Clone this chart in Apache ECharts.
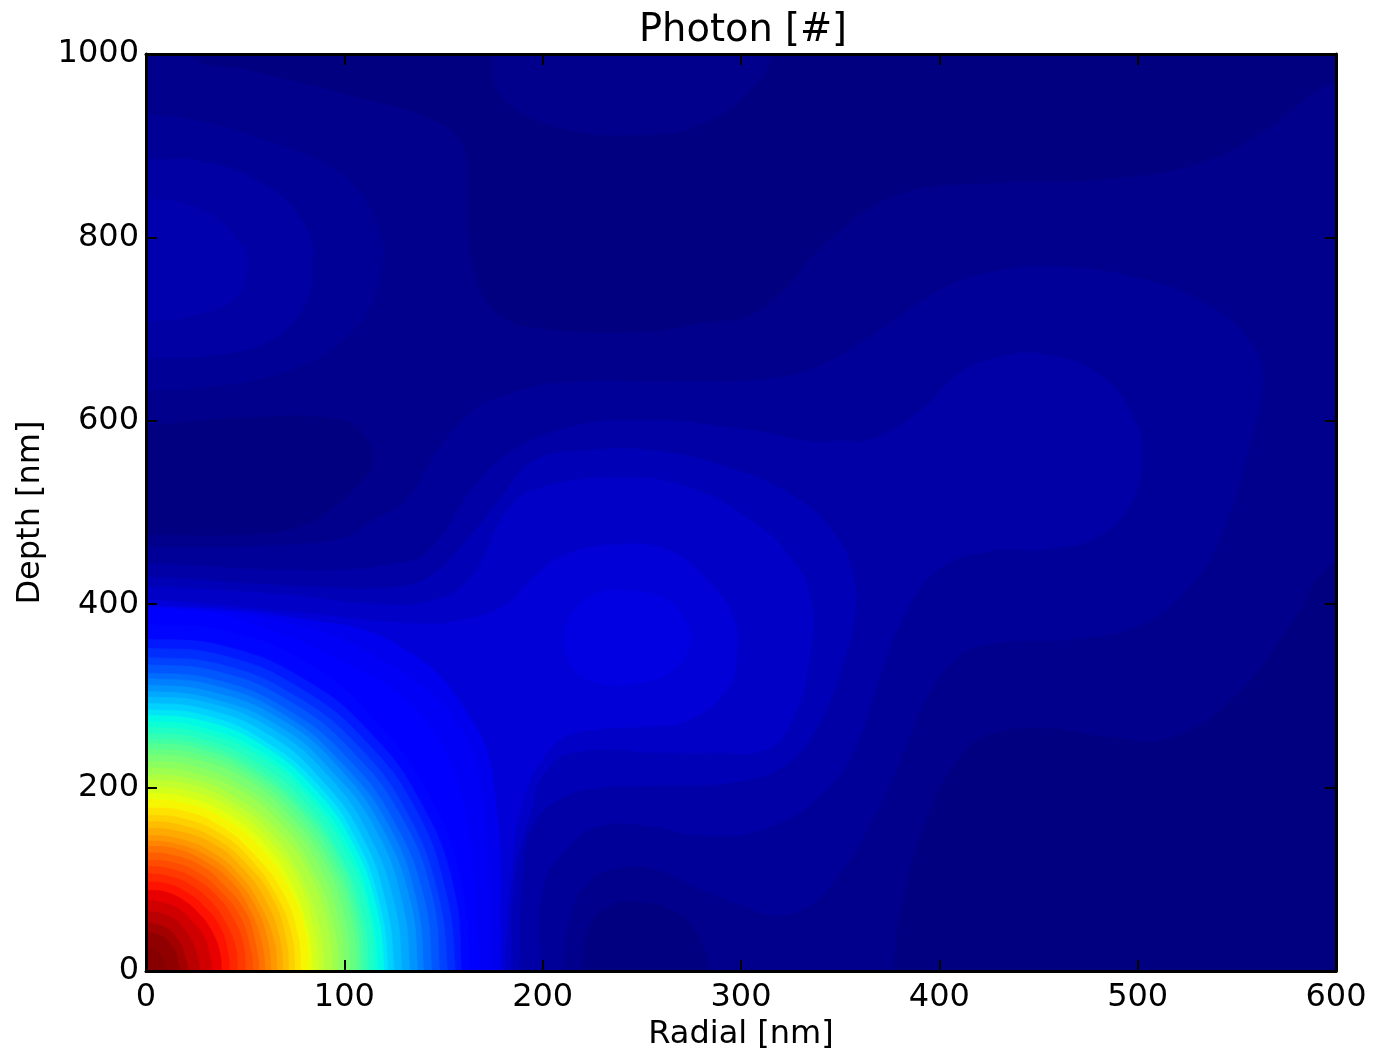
<!DOCTYPE html>
<html><head><meta charset="utf-8">
<style>html,body{margin:0;padding:0;background:#fff}#c{width:1375px;height:1056px}</style>
<script src="https://cdn.jsdelivr.net/npm/echarts@6/dist/echarts.min.js"></script>
</head><body><div id="c"></div>
<script>
const chartTitle = 'Photon [#]';
const radialLabel = 'Radial [nm]';
const depthLabel = 'Depth [nm]';
const radialRange = [0, 600];
const depthRange = [0, 1000];
const radialStep = 100;
const depthStep = 200;

// Filled-contour regions, painted in order.
// Each row: normalised level, then radial,depth pairs in nm.
const lowRegions = [
  [0.011, 0,0, 600,0, 600,1000, 0,1000],
  [0.001, 22,1000, 52,983, 98,958, 148,925, 161,893, 162,823, 167,752, 179,715, 199,701, 249,697, 279,706, 310,722, 345,798, 380,847, 431,860, 481,863, 532,882, 565,918, 600,970, 600,1000],
  [0.011, 175,1000, 179,955, 209,920, 249,912, 279,923, 305,961, 315,1000],
  [0.001, 377,0, 382,80, 395,172, 409,229, 422,255, 451,265, 485,255, 518,255, 552,306, 577,377, 600,446, 600,0],
  [0.001, 0,595, 47,603, 98,601, 111,581, 114,552, 109,535, 94,505, 76,484, 50,476, 0,476],
  [0.001, 220,0, 224,50, 235,72, 249,75, 263,68, 276,47, 284,0]
];
const upperLobe = [
  [0.020, 0,934, 31,925, 64,903, 89,882, 106,853, 118,802, 119,773, 114,729, 98,686, 73,656, 31,637, 0,634],
  [0.030, 0,885, 31,882, 64,852, 81,809, 84,773, 79,722, 61,686, 31,671, 0,668],
  [0.040, 0,842, 27,831, 47,795, 51,769, 46,736, 31,719, 0,708]
];
const middleBands = [
  [0.021, 210,0, 215,68, 225,101, 241,113, 258,110, 279,90, 300,72, 318,61, 335,72, 350,107, 367,167, 384,249, 394,300, 409,342, 426,357, 467,362, 501,377, 526,419, 543,480, 557,578, 563,644, 557,685, 535,727, 501,755, 459,768, 426,762, 400,742, 375,706, 364,690, 341,661, 316,646, 266,643, 207,641, 182,628, 165,611, 148,570, 131,513, 114,491, 101,473, 67,464, 0,462, 0,0],
  [0.033, 199,0, 200,90, 212,133, 229,158, 254,158, 279,148, 313,156, 345,202, 360,256, 370,321, 384,394, 400,439, 426,458, 454,460, 481,475, 498,516, 502,563, 498,603, 481,650, 454,672, 431,670, 409,650, 392,614, 367,581, 350,578, 333,578, 308,589, 246,601, 207,589, 182,563, 165,527, 143,459, 126,444, 84,437, 0,444, 0,0],
  [0.047, 188,0, 190,104, 195,158, 209,188, 229,200, 254,202, 300,207, 325,229, 340,272, 351,332, 357,383, 357,429, 346,480, 325,520, 291,551, 258,567, 224,568, 195,556, 179,516, 163,473, 145,433, 126,419, 84,419, 0,430, 0,0],
  [0.0607, 184,0, 186,104, 195,180, 200,213, 215,238, 263,238, 286,238, 313,242, 326,274, 335,346, 335,408, 325,451, 308,487, 274,527, 241,538, 199,527, 182,502, 165,433, 146,405, 117,400, 67,411, 0,419, 0,0],
  [0.0748, 181,0, 185,126, 191,191, 200,231, 212,256, 229,264, 254,267, 274,274, 293,307, 298,346, 296,386, 283,426, 263,459, 239,465, 212,454, 195,429, 182,400, 160,383, 135,379, 84,389, 0,405, 0,0],
  [0.085, 212,375, 224,408, 243,415, 263,404, 273,378, 274,356, 266,329, 249,314, 229,314, 215,332]
];
const cornerFan = [
  [0.095, 0,399, 78,384, 128,354, 163,278, 176,191, 179,0, 0,0],
  [0.103, 0,397, 70,380, 122,335, 157,270, 170,180, 174,0, 0,0],
  [0.11, 0,395, 34,390, 67,368, 100,337, 128,300, 148,250, 159,191, 165,104, 168,0, 0,0],
  [0.13, 0,378, 40,371, 82,335, 116,272, 143,190, 159,96, 163,0, 0,0],
  [0.15, 0,362, 40,354, 80,318, 113,260, 139,182, 155,92, 159,0, 0,0],
  [0.17, 0,352, 39,344, 78,308, 111,250, 136,176, 151,88, 156,0, 0,0],
  [0.19, 0,342, 38,334, 76,299, 108,243, 132,171, 147,86, 152,0, 0,0],
  [0.21, 0,334, 37,326, 74,292, 105,237, 129,167, 144,84, 148,0, 0,0],
  [0.23, 0,325, 36,317, 72,284, 102,231, 125,163, 140,81, 144,0, 0,0],
  [0.25, 0,319, 35,311, 70,279, 99,226, 122,160, 136,80, 140,0, 0,0],
  [0.27, 0,312, 34,304, 69,273, 97,222, 119,156, 133,78, 137,0, 0,0],
  [0.29, 0,305, 33,297, 67,267, 94,217, 116,153, 129,76, 133,0, 0,0],
  [0.31, 0,299, 32,292, 65,262, 92,212, 112,150, 125,75, 129,0, 0,0],
  [0.33, 0,292, 31,285, 63,256, 89,207, 109,146, 121,73, 125,0, 0,0],
  [0.35, 0,285, 31,278, 61,249, 87,202, 106,143, 118,71, 122,0, 0,0],
  [0.37, 0,279, 30,272, 60,244, 85,198, 104,140, 116,70, 120,0, 0,0],
  [0.39, 0,272, 29,265, 59,238, 83,193, 102,136, 113,68, 117,0, 0,0],
  [0.41, 0,266, 29,259, 58,233, 82,189, 100,133, 112,67, 115,0, 0,0],
  [0.43, 0,259, 28,253, 56,227, 80,184, 97,130, 109,65, 112,0, 0,0],
  [0.45, 0,253, 28,247, 55,221, 78,180, 96,127, 107,63, 110,0, 0,0],
  [0.47, 0,248, 27,242, 54,217, 77,176, 94,124, 105,62, 108,0, 0,0],
  [0.49, 0,242, 27,236, 53,212, 75,172, 92,121, 103,61, 106,0, 0,0],
  [0.51, 0,236, 26,230, 52,207, 73,168, 90,118, 100,59, 103,0, 0,0],
  [0.53, 0,229, 25,223, 50,200, 71,163, 87,115, 97,57, 100,0, 0,0],
  [0.55, 0,222, 24,216, 49,194, 69,158, 84,111, 94,56, 97,0, 0,0],
  [0.57, 0,214, 24,209, 47,187, 67,152, 82,107, 91,54, 94,0, 0,0],
  [0.59, 0,208, 23,203, 45,182, 64,148, 78,104, 87,52, 90,0, 0,0],
  [0.61, 0,201, 22,196, 44,176, 62,143, 76,101, 84,50, 87,0, 0,0],
  [0.63, 0,194, 21,189, 42,170, 60,138, 73,97, 81,49, 84,0, 0,0],
  [0.65, 0,187, 21,182, 41,164, 58,133, 71,94, 80,47, 82,0, 0,0],
  [0.67, 0,178, 20,174, 39,156, 55,126, 68,89, 76,45, 78,0, 0,0],
  [0.69, 0,170, 19,166, 38,149, 53,121, 65,85, 73,43, 75,0, 0,0],
  [0.71, 0,163, 18,159, 36,143, 51,116, 63,82, 70,41, 72,0, 0,0],
  [0.73, 0,156, 17,152, 35,137, 49,111, 60,78, 67,39, 69,0, 0,0],
  [0.75, 0,148, 17,144, 33,130, 47,105, 57,74, 64,37, 66,0, 0,0],
  [0.77, 0,142, 16,138, 32,124, 45,101, 55,71, 61,36, 63,0, 0,0],
  [0.79, 0,136, 15,133, 30,119, 43,97, 52,68, 58,34, 60,0, 0,0],
  [0.81, 0,129, 14,126, 29,113, 40,92, 50,65, 55,32, 57,0, 0,0],
  [0.83, 0,121, 14,118, 27,106, 38,86, 47,61, 52,30, 54,0, 0,0],
  [0.85, 0,114, 13,111, 25,100, 36,81, 44,57, 49,29, 50,0, 0,0],
  [0.87, 0,106, 12,103, 23,93, 33,75, 40,53, 45,27, 46,0, 0,0],
  [0.89, 0,97, 11,95, 21,85, 30,69, 37,49, 41,24, 42,0, 0,0],
  [0.91, 0,88, 10,86, 19,77, 27,62, 33,44, 37,22, 38,0, 0,0],
  [0.93, 0,77, 8,75, 17,67, 23,55, 29,39, 32,19, 33,0, 0,0],
  [0.95, 0,65, 7,63, 14,57, 19,46, 23,33, 26,16, 27,0, 0,0],
  [0.97, 0,52, 5,51, 11,46, 15,37, 18,26, 20,13, 21,0, 0,0],
  [0.985, 0,42, 4,41, 9,37, 12,30, 15,21, 16,11, 17,0, 0,0],
  [0.995, 0,26, 3,25, 5,23, 7,18, 9,13, 10,7, 10,0, 0,0]
];

// jet colour stops [position, red, green, blue]
const jetStops = [
  [0,0,0,128],[0.11,0,0,255],[0.125,0,0,255],[0.34,0,219,255],[0.35,0,230,247],
  [0.375,0,255,226],[0.64,238,255,4],[0.66,255,236,0],[0.89,255,19,0],[0.91,232,0,0],[1,128,0,0]
];
function jetAt(t){
  for(let i=1;i<jetStops.length;i++){
    const a=jetStops[i-1],b=jetStops[i];
    if(t<=b[0]){
      const f=(t-a[0])/(b[0]-a[0]);
      const ch=k=>Math.round(a[k]+(b[k]-a[k])*f);
      return 'rgb('+ch(1)+','+ch(2)+','+ch(3)+')';
    }
  }
  return 'rgb(128,0,0)';
}
const jetLut=[];for(let i=0;i<=400;i++)jetLut.push(jetAt(i/400));

const allRegions=[...lowRegions,...upperLobe,...middleBands,...cornerFan];
const regionData=allRegions.map((r,i)=>[r[0],i]);

// Runs along the plot edge are routed outside it, so the clip (not the spline) makes the edge.
const pushX=x=>x<=radialRange[0]?x-30:(x>=radialRange[1]?x+30:x);
const pushY=y=>y<=depthRange[0]?y-60:(y>=depthRange[1]?y+60:y);
const onX=p=>p[0]<=radialRange[0]||p[0]>=radialRange[1];
const onY=p=>p[1]<=depthRange[0]||p[1]>=depthRange[1];
const pushed=p=>[pushX(p[0]),pushY(p[1])];
function sameEdge(p,q){
  return (onX(p)&&onX(q)&&p[0]===q[0])||(onY(p)&&onY(q)&&p[1]===q[1]);
}
function routeRegion(r){
  const src=[];for(let i=1;i<r.length;i+=2)src.push([r[i],r[i+1]]);
  const out=[];
  src.forEach((p,i)=>{
    const q=src[(i+1)%src.length];
    const pCorner=onX(p)&&onY(p),qCorner=onX(q)&&onY(q);
    out.push(pCorner?pushed(p):p);
    if(sameEdge(p,q)){
      if(!pCorner)out.push(pushed(p));
      if(!qCorner)out.push(pushed(q));
    }
  });
  return out;
}
const routedRegions=allRegions.map(routeRegion);

function renderRegion(params,api){
  const pts=routedRegions[api.value(1)].map(p=>api.coord(p));
  const c=api.visual('color');
  return {type:'polygon',shape:{points:pts,smooth:pts.length>4?0.45:0},style:{fill:c,stroke:c,lineWidth:0.6}};
}

const font='"DejaVu Sans"';
const plain=v=>String(v);
const tickStyle={inside:true,length:11,lineStyle:{color:'#000',width:2}};
const lineStyle={show:true,onZero:false,lineStyle:{color:'#000',width:3}};
const chart=echarts.init(document.getElementById('c'),null,{renderer:'canvas'});
chart.setOption({
  animation:false,
  backgroundColor:'#fff',
  title:{text:chartTitle,left:738,top:7,textAlign:'center',textStyle:{fontFamily:font,fontWeight:'normal',fontSize:38.4,color:'#000'}},
  grid:{left:146,top:54,width:1190,height:922,containLabel:false},
  xAxis:[
    {type:'value',min:radialRange[0],max:radialRange[1],interval:radialStep,z:10,name:radialLabel,nameLocation:'middle',nameGap:48,
     nameTextStyle:{fontFamily:font,fontSize:32,color:'#000'},axisLine:lineStyle,axisTick:tickStyle,splitLine:{show:false},
     axisLabel:{fontFamily:font,fontSize:32,color:'#000',margin:11,formatter:plain,showMinLabel:true,showMaxLabel:true,hideOverlap:false}},
    {type:'value',position:'top',min:radialRange[0],max:radialRange[1],interval:radialStep,z:10,axisLine:lineStyle,axisTick:tickStyle,splitLine:{show:false},axisLabel:{show:false}}
  ],
  yAxis:[
    {type:'value',min:depthRange[0],max:depthRange[1],interval:depthStep,z:10,name:depthLabel,nameLocation:'middle',nameGap:97,
     nameTextStyle:{fontFamily:font,fontSize:32,color:'#000'},axisLine:lineStyle,axisTick:tickStyle,splitLine:{show:false},
     axisLabel:{fontFamily:font,fontSize:32,color:'#000',margin:7,formatter:plain,showMinLabel:true,showMaxLabel:true,hideOverlap:false}},
    {type:'value',position:'right',min:depthRange[0],max:depthRange[1],interval:depthStep,z:10,axisLine:lineStyle,axisTick:tickStyle,splitLine:{show:false},axisLabel:{show:false}}
  ],
  visualMap:{show:false,type:'continuous',min:0,max:1,dimension:0,seriesIndex:0,inRange:{color:jetLut}},
  series:[{type:'custom',xAxisIndex:0,yAxisIndex:0,clip:true,silent:true,renderItem:renderRegion,data:regionData,encode:{x:-1,y:-1},dimensions:['level','region']}]
});
</script></body></html>
